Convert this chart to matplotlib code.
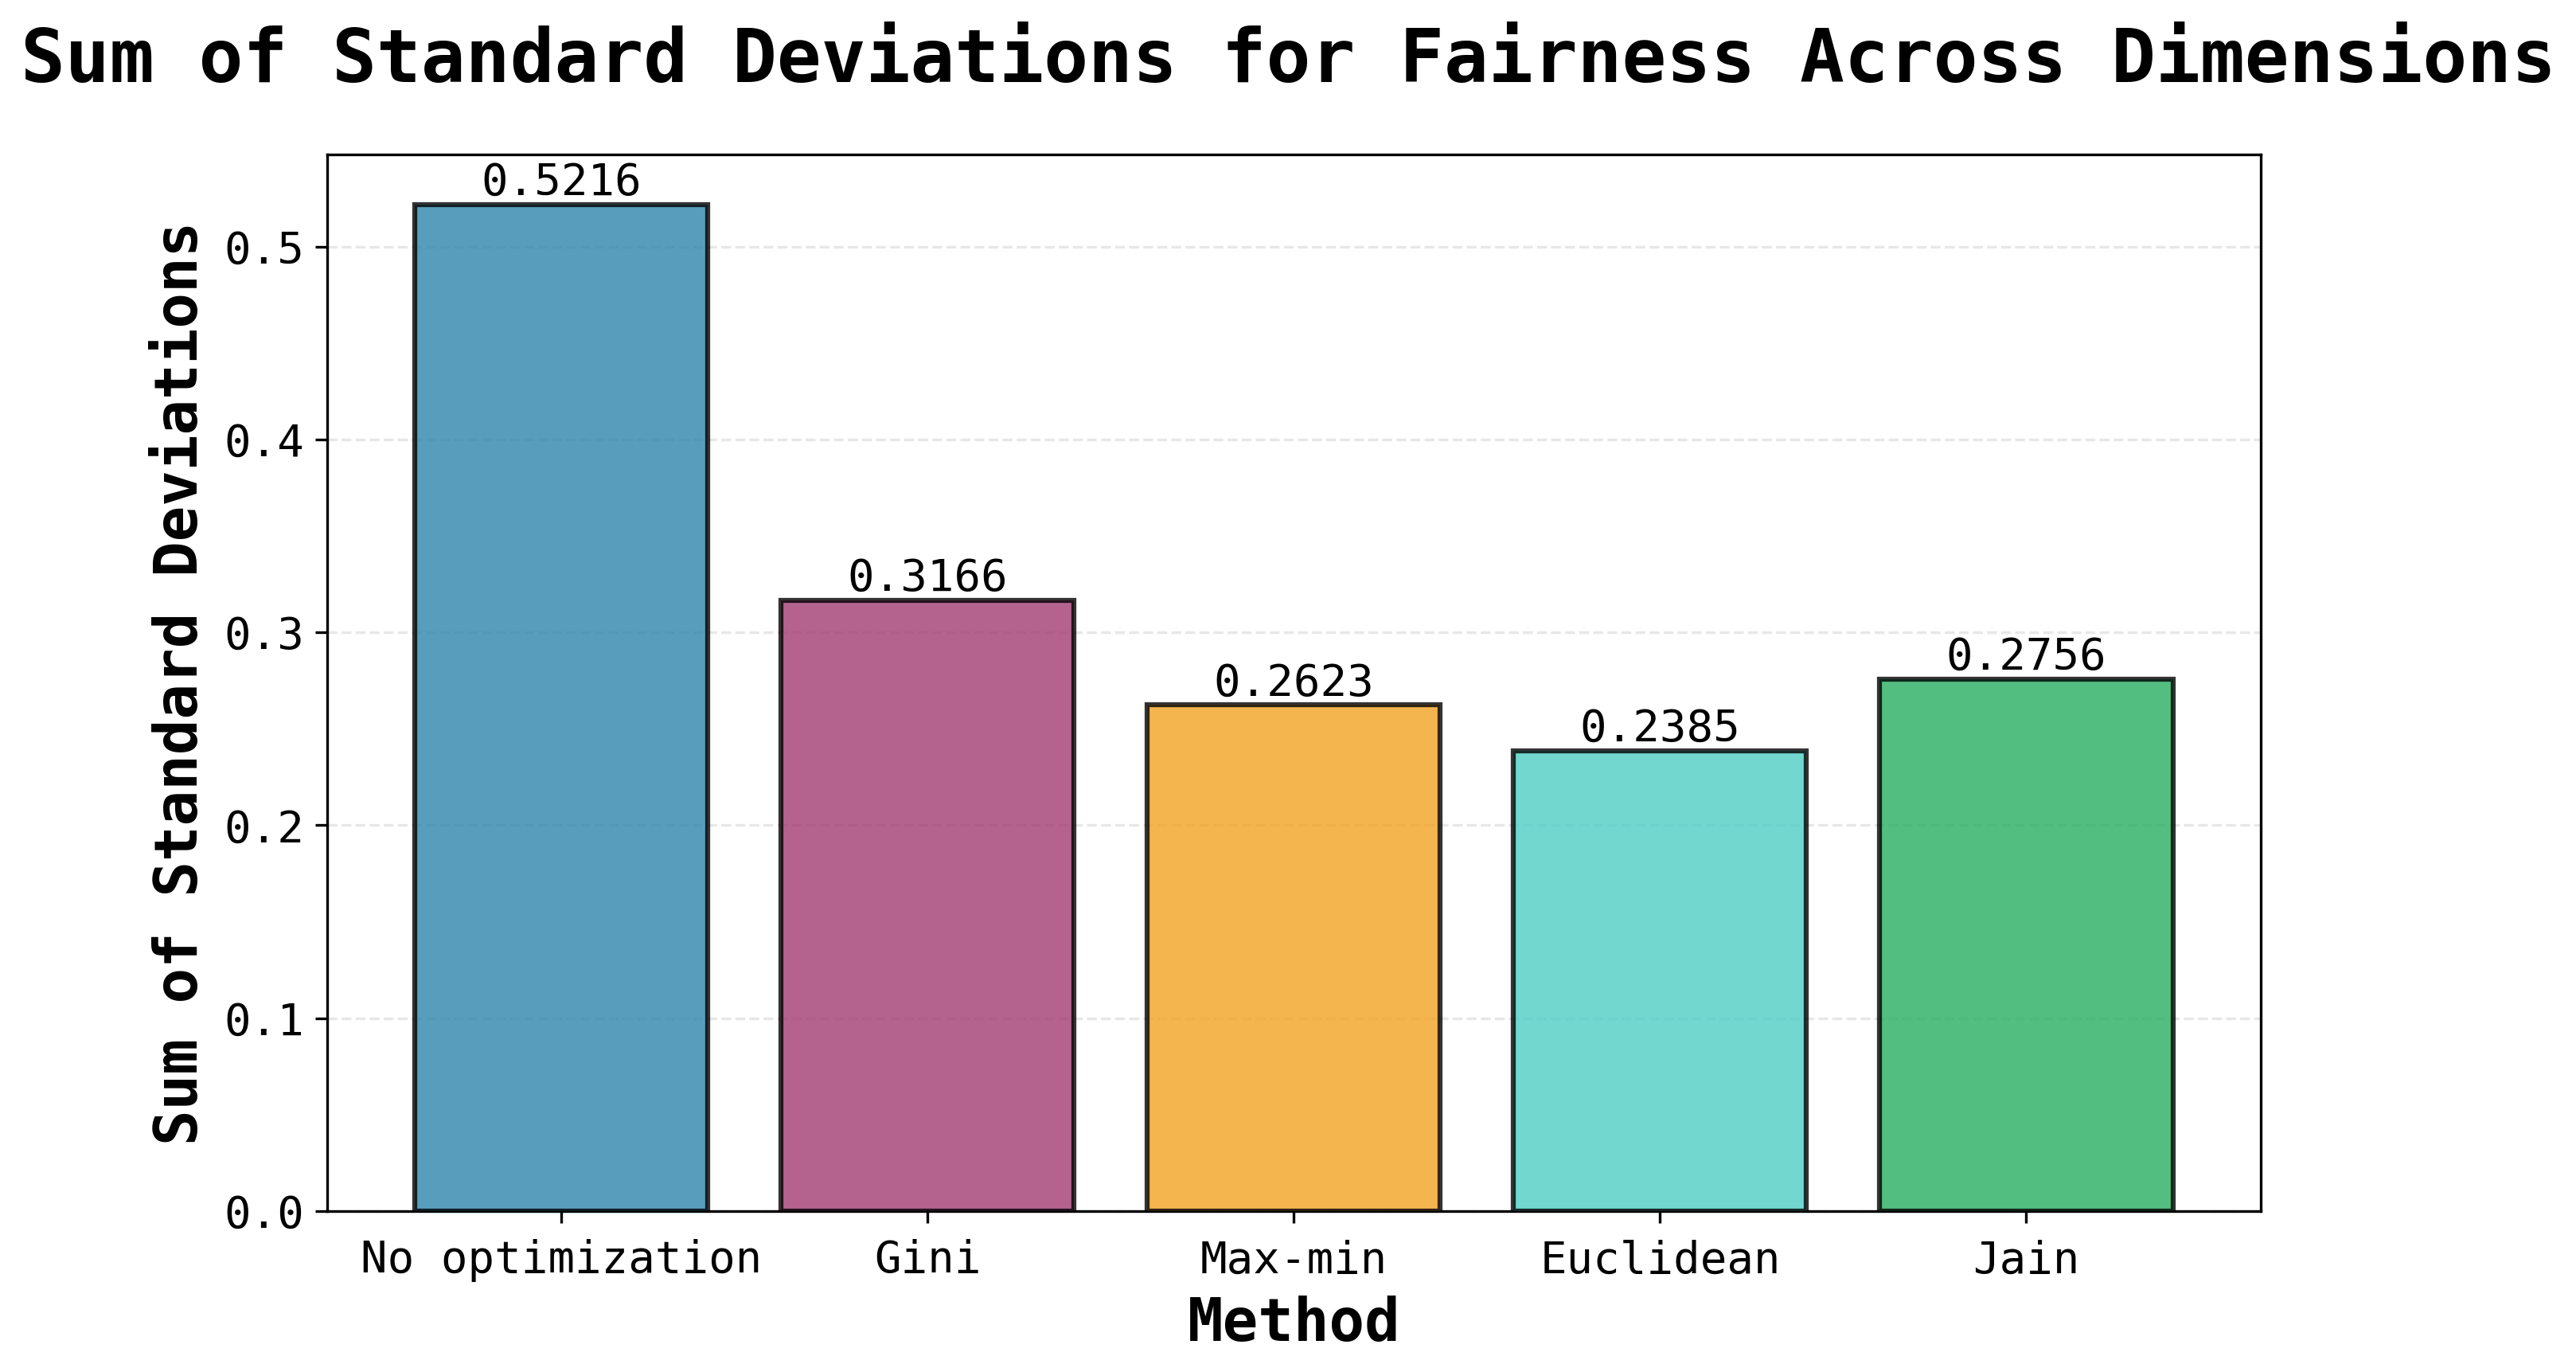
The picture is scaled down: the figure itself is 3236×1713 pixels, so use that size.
import matplotlib
matplotlib.use("Agg")
import matplotlib.pyplot as plt

methods = ["No optimization", "Gini", "Max-min", "Euclidean", "Jain"]
values = [0.5216, 0.3166, 0.2623, 0.2385, 0.2756]
colors = ["#2E86AB", "#A23B72", "#F2A122", "#4ECDC4", "#27AE60"]
title = "Sum of Standard Deviations for Fairness Across Dimensions"
xlabel = "Method"
ylabel = "Sum of Standard Deviations"

plt.rcParams["font.family"] = ["DejaVu Sans Mono"]

fig = plt.figure(figsize=(3236 / 300, 1713 / 300), dpi=300)
ax = fig.add_axes([0.127, 0.1121, 0.7506, 0.7746])

bars = ax.bar(methods, values, color=colors, alpha=0.8,
              edgecolor="black", linewidth=1.5, zorder=3)
for b, v in zip(bars, values):
    ax.text(b.get_x() + b.get_width() / 2, b.get_height(), f"{v:.4f}",
            ha="center", va="bottom", fontsize=13.4)

ax.set_ylim(0, max(values) * 1.05)
ax.yaxis.grid(True, linestyle="--", alpha=0.3, zorder=0)
ax.set_axisbelow(True)
ax.tick_params(axis="both", labelsize=13.4)
ax.tick_params(axis="x", pad=5)
ax.set_xlabel(xlabel, fontsize=17.8, fontweight="bold", labelpad=4)
ax.set_ylabel(ylabel, fontsize=17.8, fontweight="bold")
fig.text(0.5, 1 - 103 / 1713, title, ha="center", va="baseline",
         fontsize=22.3, fontweight="bold")

fig.savefig("out.png", dpi=300)
